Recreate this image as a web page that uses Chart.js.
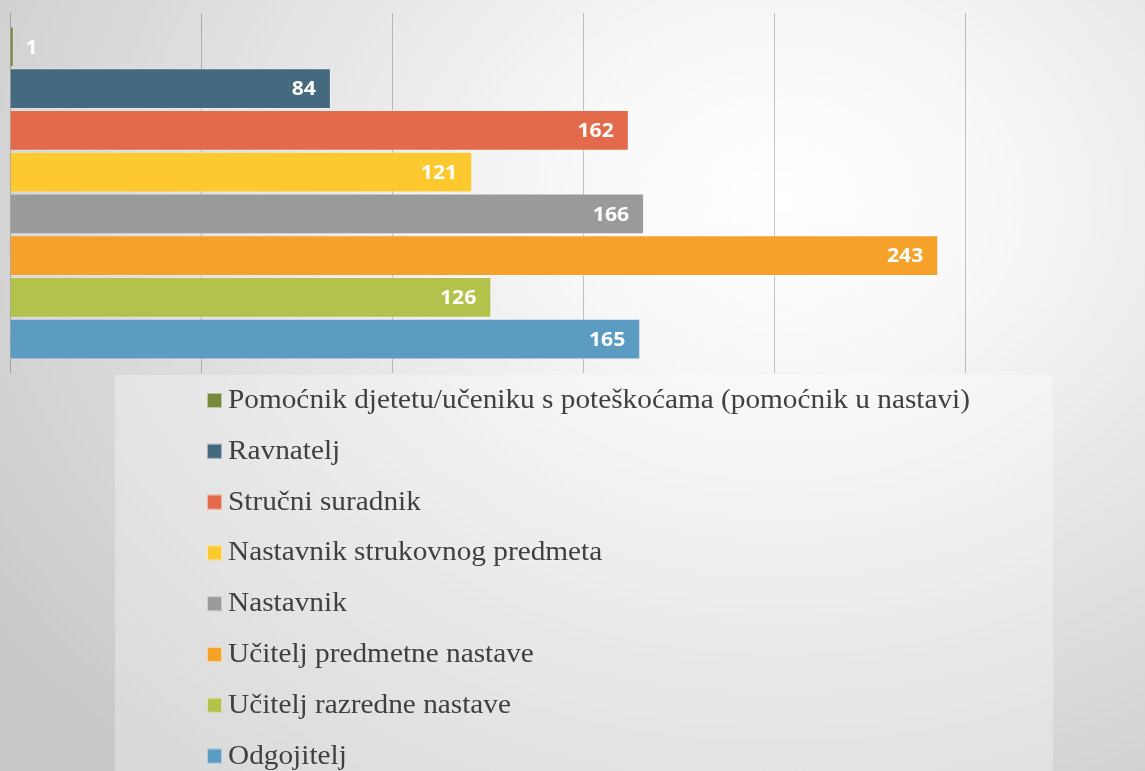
<!DOCTYPE html>
<html>
<head>
<meta charset="utf-8">
<script src="https://cdn.jsdelivr.net/npm/chart.js@4.4.1/dist/chart.umd.min.js"></script>
<style>
html, body { margin: 0; padding: 0; }
body {
  width: 1145px; height: 771px; overflow: hidden;
  background: radial-gradient(ellipse 950px 750px at 780px 200px, #ffffff 0%, #f8f8f8 22%, #e2e2e2 58%, #c9c9c9 100%);
}
canvas { display: block; }
</style>
</head>
<body>
<canvas id="Chart" width="1145" height="771"></canvas>
<script>
// kategorije, redom kao u legendi (odozgo prema dolje)
let labels = [
	'Pomoćnik djetetu/učeniku s poteškoćama (pomoćnik u nastavi)',
	'Ravnatelj',
	'Stručni suradnik',
	'Nastavnik strukovnog predmeta',
	'Nastavnik',
	'Učitelj predmetne nastave',
	'Učitelj razredne nastave',
	'Odgojitelj'
];
let values = [1, 84, 162, 121, 166, 243, 126, 165];
let colors = ['#77893a', '#45697e', '#e36a4b', '#fdc92f', '#9a9a9a', '#f5a12a', '#b2c24a', '#5c9bc2'];
// x os
let xTicks = [0, 50, 100, 150, 200, 250];

let datasets = labels.map((name, i) => ({
	label: name,
	data: [values[i]],
	backgroundColor: colors[i],
	borderColor: 'rgba(255,255,255,0.35)',
	borderWidth: 1,
	categoryPercentage: 1,
	barPercentage: 0.98,
}));

// poluprozirna podloga ispod legende
const legendBox = {
	id: 'legendBox',
	beforeDraw(chart) {
		const ctx = chart.ctx;
		ctx.save();
		ctx.fillStyle = 'rgba(255,255,255,0.3)';
		ctx.fillRect(115, 375, 938, 396);
		ctx.restore();
	}
};

// vrijednosti na kraju stupca (tekst je u originalu malo razvučen)
const valueLabels = {
	id: 'valueLabels',
	afterDraw(chart) {
		const ctx = chart.ctx;
		chart.data.datasets.forEach((ds, i) => {
			const bar = chart.getDatasetMeta(i).data[0];
			const x = Math.max(bar.x - 15, bar.base + 27);
			ctx.save();
			ctx.font = 'bold 20px "Open Sans"';
			ctx.fillStyle = '#ffffff';
			ctx.textAlign = 'right';
			ctx.textBaseline = 'middle';
			ctx.translate(x, bar.y + 1);
			ctx.scale(1.06, 1);
			ctx.fillText(String(ds.data[0]), 0, 0);
			ctx.restore();
		});
	}
};

// legenda u jednom stupcu ispod grafa
const listLegend = {
	id: 'listLegend',
	afterDraw(chart) {
		const ctx = chart.ctx;
		chart.data.datasets.forEach((ds, i) => {
			const cy = 400 + i * 50.8;
			ctx.save();
			ctx.fillStyle = ds.backgroundColor;
			ctx.fillRect(207, cy - 7, 15, 15);
			ctx.strokeStyle = 'rgba(255,255,255,0.5)';
			ctx.lineWidth = 1;
			ctx.strokeRect(207.5, cy - 6.5, 14, 14);
			ctx.font = '27px "Liberation Serif"';
			ctx.textBaseline = 'middle';
			ctx.textAlign = 'left';
			ctx.fillStyle = '#404040';
			ctx.translate(228, cy + 1);
			ctx.scale(1.085, 1);
			ctx.fillText(ds.label, 0, 0);
			ctx.restore();
		});
	}
};

let ctx = document.getElementById('Chart');
let config = {
	type: 'bar',
	data: {
		labels: [''],
		datasets: datasets,
	},
	options: {
		indexAxis: 'y',
		responsive: false,
		animation: false,
		layout: { padding: { top: 13, left: 10, right: 180, bottom: 398 } },
		scales: {
			x: {
				min: xTicks[0],
				max: xTicks[xTicks.length - 1],
				z: 1,
				ticks: { display: false, stepSize: xTicks[1] - xTicks[0] },
				grid: { color: 'rgba(0,0,0,0.22)', tickLength: 13 },
				border: { display: false },
			},
			x2: {
				type: 'linear',
				position: 'top',
				min: xTicks[0],
				max: xTicks[xTicks.length - 1],
				ticks: { display: false, stepSize: xTicks[1] - xTicks[0] },
				grid: { color: 'rgba(0,0,0,0.22)', tickLength: 13, drawOnChartArea: false },
				border: { display: false },
			},
			y: { display: false },
		},
		plugins: {
			legend: { display: false },
			tooltip: { enabled: false },
		},
	},
	plugins: [legendBox, valueLabels, listLegend],
};
let chart = new Chart(ctx, config);
</script>
</body>
</html>
